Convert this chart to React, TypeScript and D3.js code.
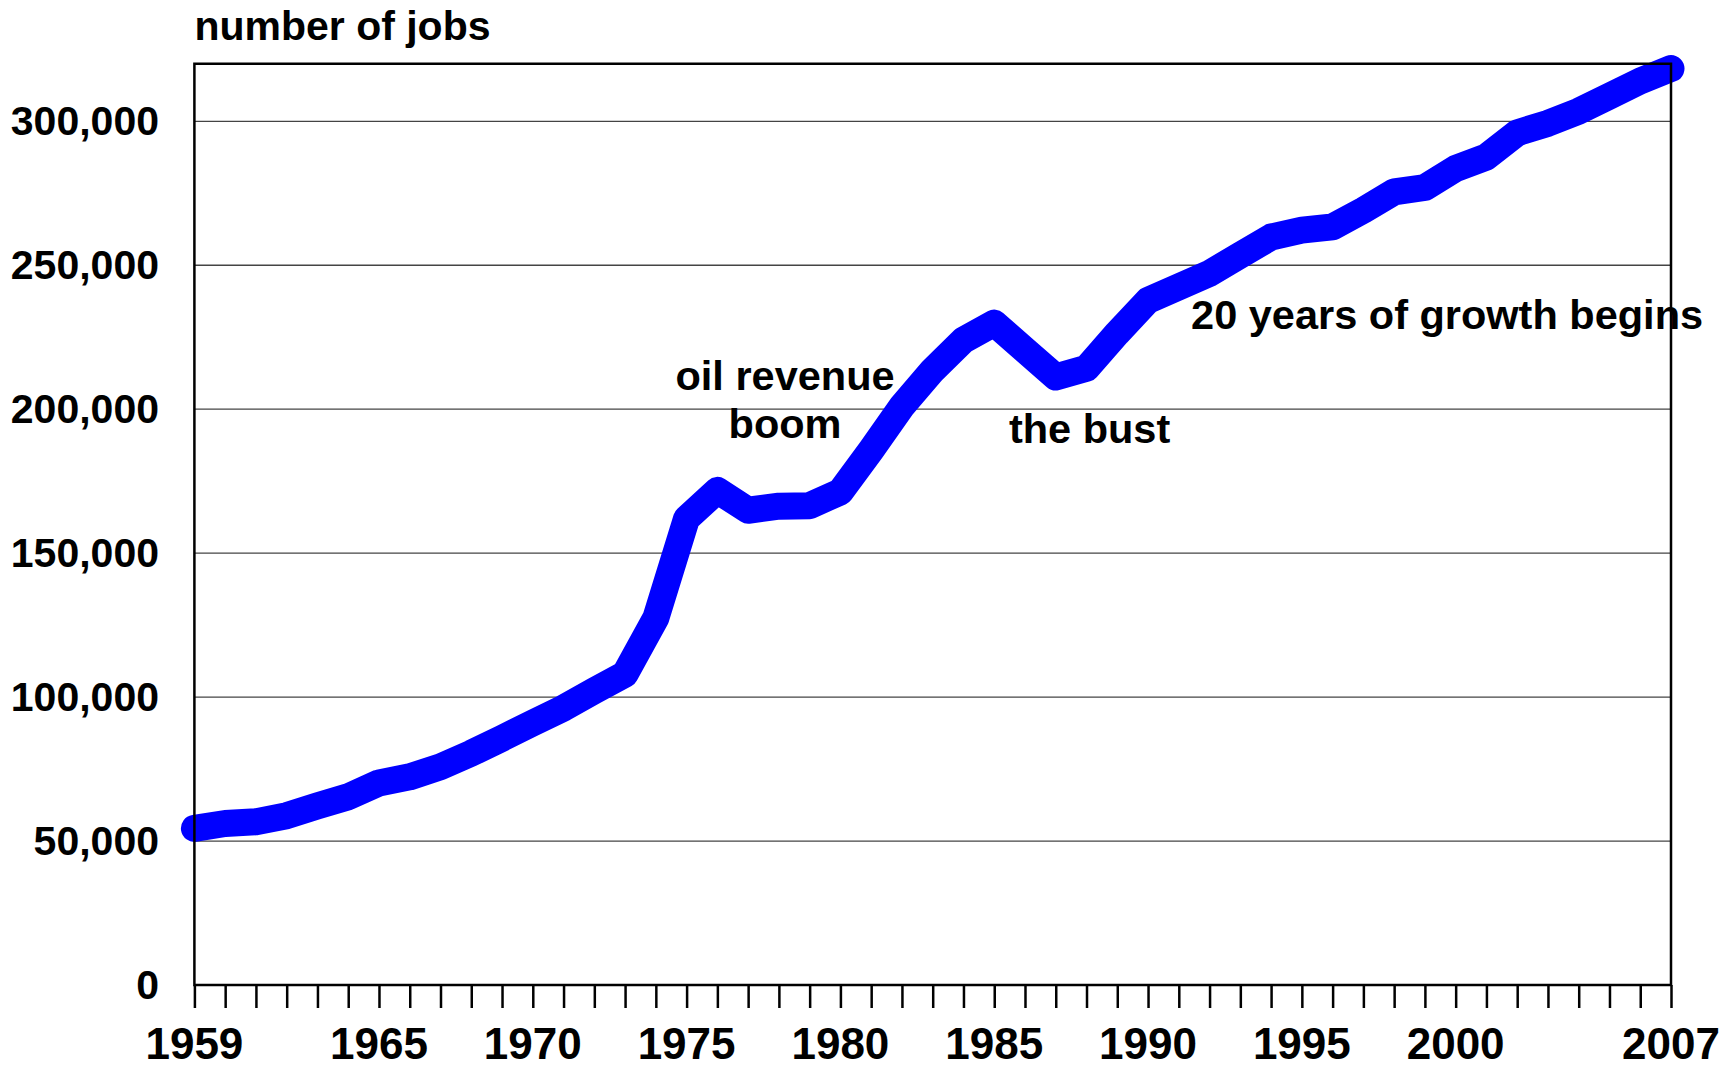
import { useRef, useEffect } from 'react';
import * as d3 from 'd3';

const years = [
  1959, 1960, 1961, 1962, 1963, 1964, 1965, 1966, 1967, 1968,
  1969, 1970, 1971, 1972, 1973, 1974, 1975, 1976, 1977, 1978,
  1979, 1980, 1981, 1982, 1983, 1984, 1985, 1986, 1987, 1988,
  1989, 1990, 1991, 1992, 1993, 1994, 1995, 1996, 1997, 1998,
  1999, 2000, 2001, 2002, 2003, 2004, 2005, 2006, 2007,
];

const jobs = [
  54400, 56100, 56700, 58800, 62200, 65400, 70200, 72300, 75800, 80500,
  85700, 91000, 96200, 102200, 108000, 127500, 162000, 171800, 164900, 166300,
  166500, 171300, 185800, 201000, 213500, 224000, 229900, 220500, 211200, 214200,
  226400, 237800, 242500, 247200, 253500, 259800, 262200, 263300, 269100, 275500,
  277000, 283600, 287600, 296000, 299300, 303500, 308700, 314000, 318300,
];

const yTicks = [0, 50000, 100000, 150000, 200000, 250000, 300000];
const yearLabels = [1959, 1965, 1970, 1975, 1980, 1985, 1990, 1995, 2000, 2007];

// annotation anchors in data units (year, jobs)
const notes = [
  { text: 'oil revenue', year: 1978.2, value: 206600, anchor: 'middle' },
  { text: 'boom', year: 1978.2, value: 189900, anchor: 'middle' },
  { text: 'the bust', year: 1988.1, value: 188200, anchor: 'middle' },
  { text: '20 years of growth begins', year: 1991.4, value: 227800, anchor: 'start' },
];

const W = 1722;
const H = 1068;
const FONT = '"Liberation Sans", Arial, Helvetica, sans-serif';

export default function App() {
  const ref = useRef<SVGSVGElement>(null);

  useEffect(() => {
    if (!ref.current) return;
    draw(ref.current);
  }, []);

  return (
    <svg
      ref={ref}
      width={W}
      height={H}
      style={{ position: 'absolute', left: 0, top: 0, display: 'block', background: '#fff' }}
    />
  );
}

function draw(el: SVGSVGElement) {
  const left = 194.4, right = 1671, top = 63.7, bottom = 985;

  const svg = d3.select(el);
  svg.selectAll('*').remove();

  const x = d3.scaleLinear().domain([1959, 2007]).range([left, right]);
  const y = d3.scaleLinear().domain([0, 320000]).range([bottom, top]);

  // gridlines
  svg.append('g')
    .selectAll('line')
    .data(yTicks.filter((d) => d > 0))
    .enter()
    .append('line')
    .attr('x1', left)
    .attr('x2', right)
    .attr('y1', (d) => y(d))
    .attr('y2', (d) => y(d))
    .attr('stroke', '#444')
    .attr('stroke-width', 1.3);

  // y labels
  const fmt = d3.format(',');
  svg.append('g')
    .selectAll('text')
    .data(yTicks)
    .enter()
    .append('text')
    .attr('x', 159)
    .attr('y', (d) => y(d) + 14)
    .attr('text-anchor', 'end')
    .style('font-family', FONT)
    .style('font-weight', 'bold')
    .style('font-size', '41px')
    .text((d) => fmt(d));

  // the series
  const line = d3.line<number>()
    .x((_, i) => x(years[i]))
    .y((d) => y(d));

  svg.append('path')
    .datum(jobs)
    .attr('d', line)
    .attr('fill', 'none')
    .attr('stroke', '#0000ff')
    .attr('stroke-width', 27)
    .attr('stroke-linecap', 'round')
    .attr('stroke-linejoin', 'round');

  // annotations
  svg.append('g')
    .selectAll('text')
    .data(notes)
    .enter()
    .append('text')
    .attr('x', (d) => x(d.year))
    .attr('y', (d) => y(d.value))
    .attr('text-anchor', (d) => d.anchor)
    .style('font-family', FONT)
    .style('font-weight', 'bold')
    .style('font-size', '41.5px')
    .text((d) => d.text);

  // axis title
  svg.append('text')
    .attr('x', left)
    .attr('y', 40)
    .style('font-family', FONT)
    .style('font-weight', 'bold')
    .style('font-size', '41px')
    .text('number of jobs');

  // year ticks
  svg.append('g')
    .attr('transform', `translate(0,${bottom})`)
    .call(d3.axisBottom(x).tickValues(years).tickSize(23).tickFormat(() => ''))
    .call((g) => g.select('.domain').remove())
    .call((g) => g.selectAll('line').attr('stroke', '#000').attr('stroke-width', 2.5));

  svg.append('g')
    .selectAll('text')
    .data(yearLabels)
    .enter()
    .append('text')
    .attr('x', (d) => x(d))
    .attr('y', 1059)
    .attr('text-anchor', 'middle')
    .style('font-family', FONT)
    .style('font-weight', 'bold')
    .style('font-size', '44px')
    .text((d) => d);

  // frame, drawn on top like the original
  svg.append('path')
    .attr('d', `M${left},${bottom}V${top}H${right}V${bottom}Z`)
    .attr('fill', 'none')
    .attr('stroke', '#000')
    .attr('stroke-width', 2.5);
}
